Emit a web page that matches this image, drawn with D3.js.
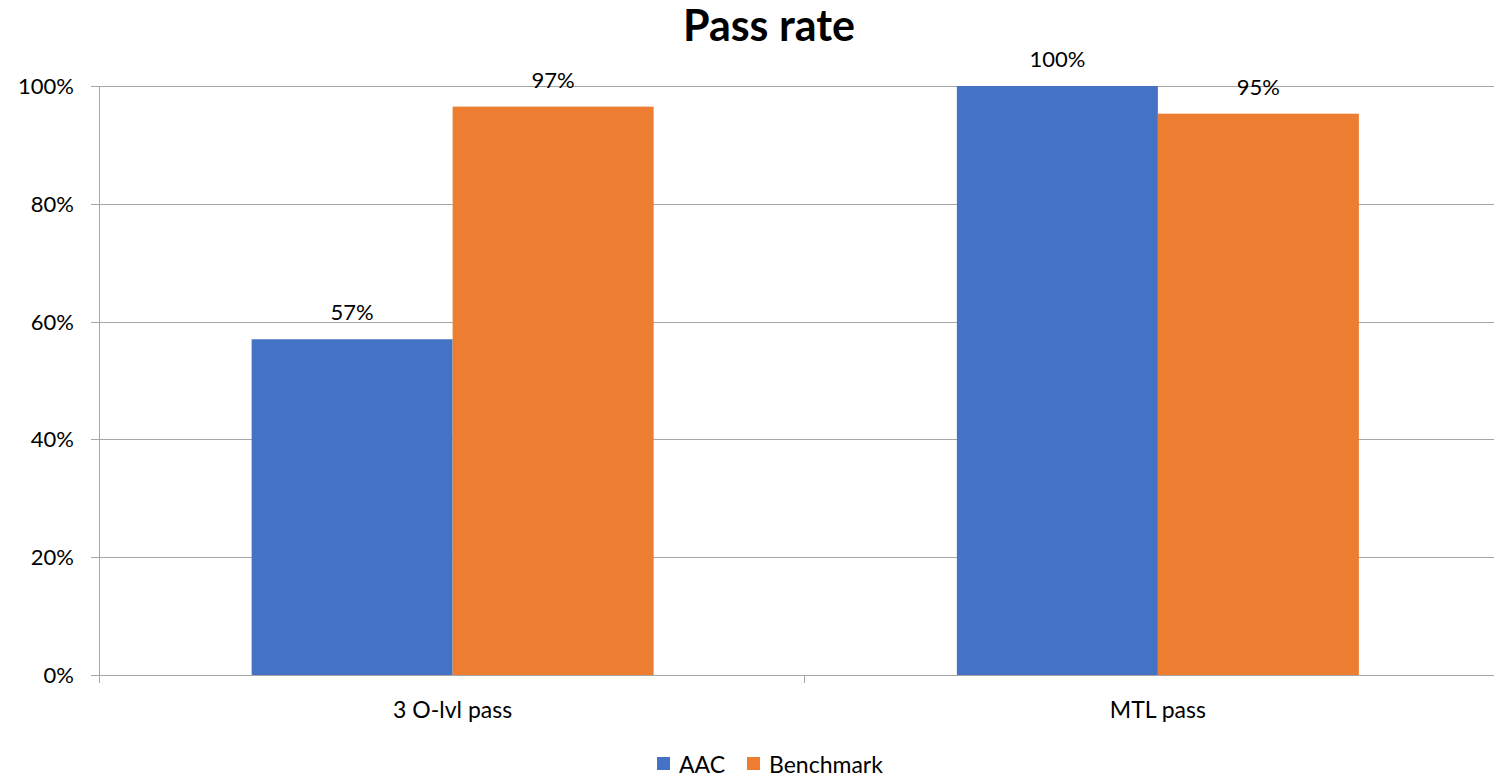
<!DOCTYPE html>
<html><head><meta charset="utf-8">
<script src="https://cdn.jsdelivr.net/npm/d3@7"></script>
<style>
html,body{margin:0;padding:0;background:#fff;}
text{font-family:Lato,"Open Sans",sans-serif;fill:#000;}
</style></head>
<body><svg id="c" width="1494" height="777"></svg>
<script>
const categories = ["3 O-lvl pass", "MTL pass"];
const seriesNames = ["AAC", "Benchmark"];
const aacValues = [0.57, 1.00];
const benchmarkValues = [0.965, 0.953];
const dataLabels = [["57%", "100%"], ["97%", "95%"]];
const yTicks = [0, 0.2, 0.4, 0.6, 0.8, 1.0];
const colors = ["#4472C4", "#ED7D31"];

(function(){
const svg = d3.select("#c");
const pL = 100, pR = 1510.5, pT = 86, pB = 675;
const x = d3.scaleBand().domain(categories).range([pL, pR]).paddingInner(0).paddingOuter(0);
const y = d3.scaleLinear().domain([0, 1]).range([pB, pT]);
const barW = 201;
const xs = d3.scaleBand().domain(seriesNames).range([-barW, barW]);

svg.append("g").selectAll("line").data(yTicks).join("line")
  .attr("x1", pL - 9).attr("x2", 1494)
  .attr("y1", d => Math.round(y(d)) + 0.5).attr("y2", d => Math.round(y(d)) + 0.5)
  .attr("stroke", "#a6a6a6").attr("stroke-width", 1);

svg.append("line").attr("x1", pL - 0.5).attr("x2", pL - 0.5).attr("y1", pT).attr("y2", pB + 8)
  .attr("stroke", "#a6a6a6");

const xTickPos = [pL, pL + x.bandwidth(), pR];
svg.append("g").selectAll("line").data(xTickPos).join("line")
  .attr("x1", d => Math.round(d) - 0.5).attr("x2", d => Math.round(d) - 0.5)
  .attr("y1", pB).attr("y2", pB + 8).attr("stroke", "#a6a6a6");

svg.append("g").selectAll("text").data(yTicks).join("text")
  .attr("x", 74).attr("y", d => y(d)).attr("dy", "0.36em")
  .attr("text-anchor", "end").attr("font-size", 22)
  .text(d => d3.format(".0%")(d));

const series = [aacValues, benchmarkValues];
series.forEach((vals, si) => {
  const g = svg.append("g");
  g.selectAll("rect").data(categories).join("rect")
    .attr("x", (c) => x(c) + x.bandwidth() / 2 + xs(seriesNames[si]))
    .attr("width", xs.bandwidth())
    .attr("y", (c, i) => y(vals[i]))
    .attr("height", (c, i) => y(0) - y(vals[i]))
    .attr("fill", colors[si]);
  g.selectAll("text").data(categories).join("text")
    .attr("x", (c) => x(c) + x.bandwidth() / 2 + xs(seriesNames[si]) + xs.bandwidth() / 2)
    .attr("y", (c, i) => y(vals[i]) - 19)
    .attr("text-anchor", "middle").attr("font-size", 22)
    .text((c, i) => dataLabels[si][i]);
});

svg.append("line").attr("x1", pL - 9).attr("x2", 1494).attr("y1", pB + 0.5).attr("y2", pB + 0.5)
  .attr("stroke", "#a6a6a6");

svg.append("g").selectAll("text").data(categories).join("text")
  .attr("x", c => x(c) + x.bandwidth() / 2).attr("y", 718)
  .attr("text-anchor", "middle").attr("font-size", 23).text(c => c);

svg.append("text").attr("x", 769).attr("y", 41).attr("text-anchor", "middle")
  .attr("font-size", 43).attr("font-weight", "bold").text("Pass rate");

const legX = [657, 747];
const lg = svg.append("g");
seriesNames.forEach((n, i) => {
  lg.append("rect").attr("x", legX[i]).attr("y", 757).attr("width", 13).attr("height", 13).attr("fill", colors[i]);
  lg.append("text").attr("x", legX[i] + 22).attr("y", 773).attr("font-size", 23).text(n);
});
})();
</script></body></html>
